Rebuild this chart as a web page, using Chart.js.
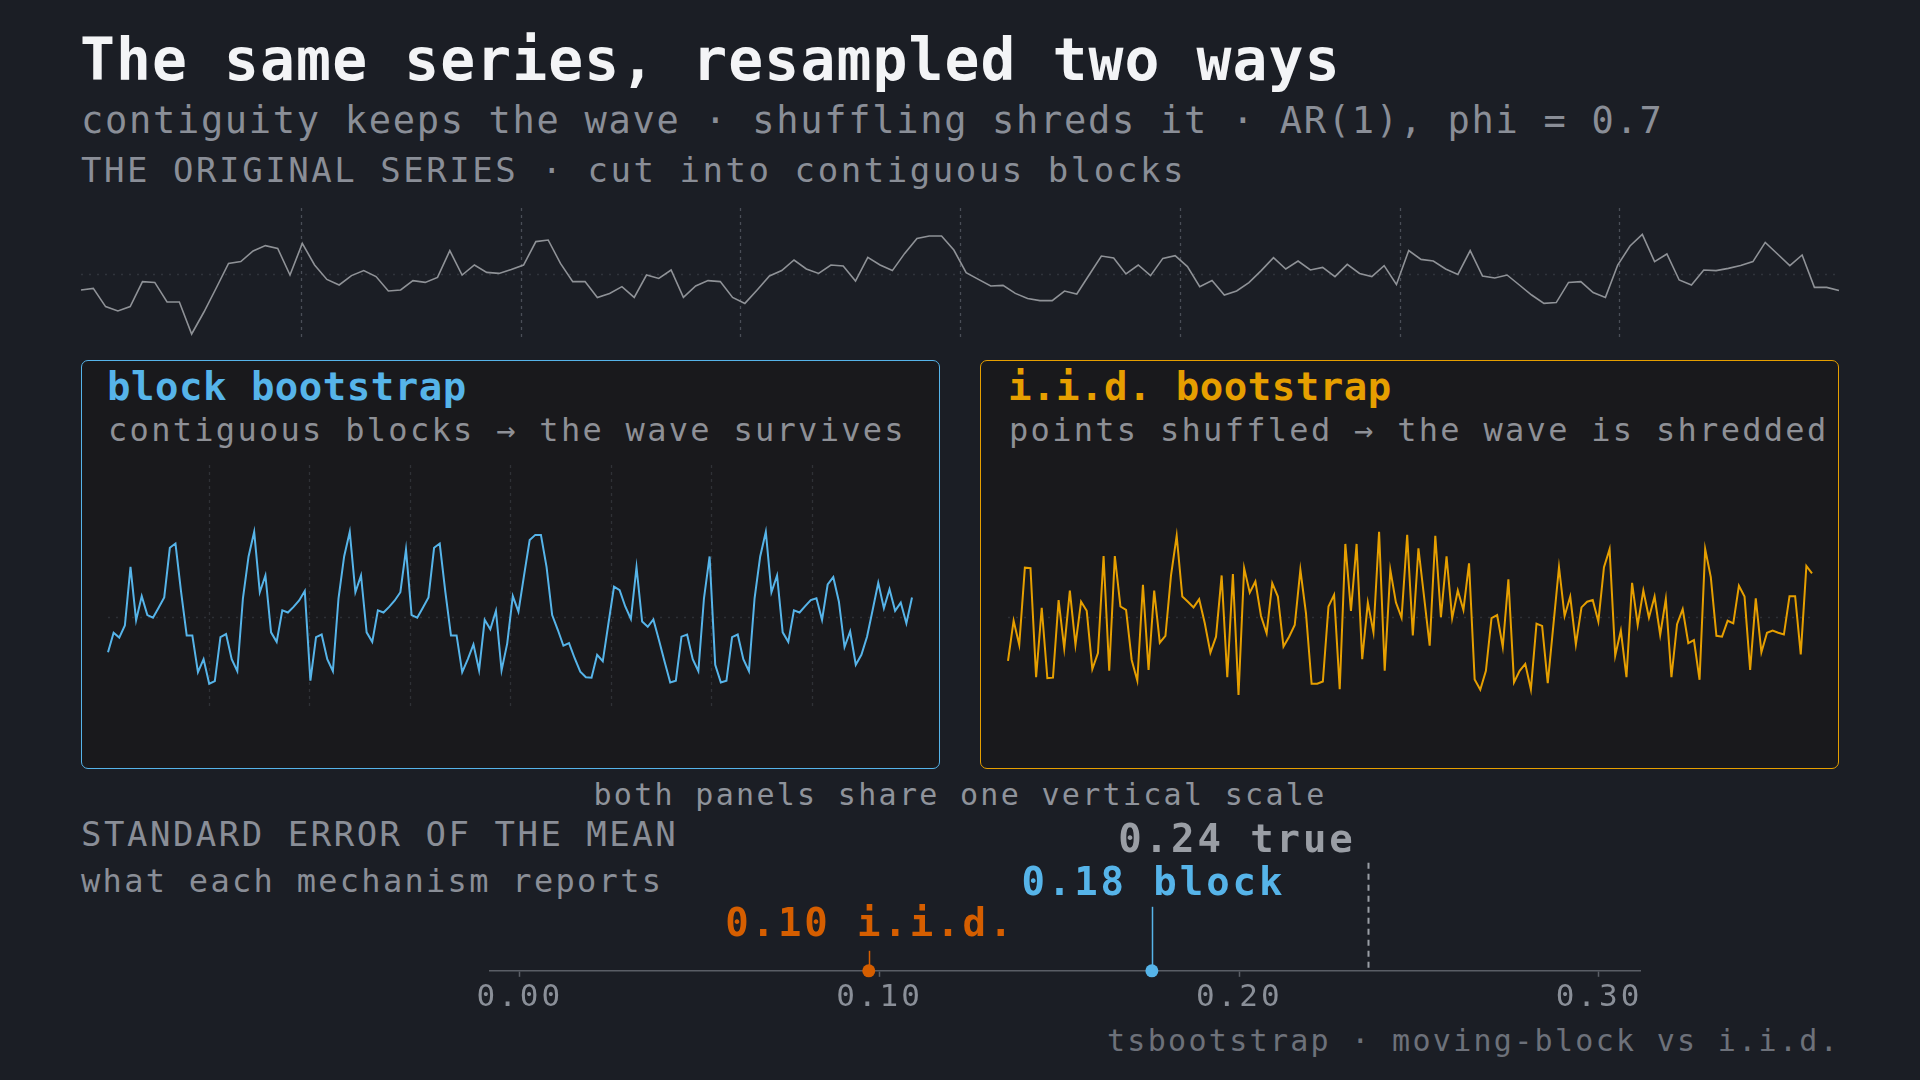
<!DOCTYPE html>
<html>
<head>
<meta charset="utf-8">
<script src="https://cdn.jsdelivr.net/npm/chart.js@4.4.1/dist/chart.umd.min.js"></script>
<style>
  html, body { margin: 0; padding: 0; background: #1b1e25; }
  #page { position: relative; width: 1920px; height: 1080px; overflow: hidden; background: #1b1e25;
          font-family: "DejaVu Sans Mono", monospace; }
  .t { position: absolute; white-space: pre; line-height: normal; }
  .panel { position: absolute; box-sizing: border-box; border-radius: 7px; background: #19191c; }
  canvas { position: absolute; }
</style>
</head>
<body>
<div id="page">
  <div class="t" style="left:80px; top:26px; font-size:58px; font-weight:bold; letter-spacing:1.1px; color:#f3f4f6">The same series, resampled two ways</div>
  <div class="t" style="left:81px; top:99px; font-size:37px; letter-spacing:1.7px; color:#8a8e97">contiguity keeps the wave · shuffling shreds it · AR(1), phi = 0.7</div>
  <div class="t" style="left:81px; top:150px; font-size:34px; letter-spacing:2.55px; color:#8a8e97">THE ORIGINAL SERIES · cut into contiguous blocks</div>

  <canvas id="origChart" width="1770" height="141" style="left:75px; top:202px; width:1770px; height:141px"></canvas>

  <div class="panel" style="left:81px; top:360px; width:859px; height:409px; border:1.5px solid #56B4E9"></div>
  <div class="panel" style="left:980px; top:360px; width:859px; height:409px; border:1.5px solid #E69F00"></div>
  <div class="t" style="left:107px; top:364px; font-size:39px; font-weight:bold; letter-spacing:0.5px; color:#56B4E9">block bootstrap</div>
  <div class="t" style="left:108px; top:411px; font-size:32px; letter-spacing:2.3px; color:#8e9096">contiguous blocks → the wave survives</div>
  <div class="t" style="left:1008px; top:364px; font-size:39px; font-weight:bold; letter-spacing:0.5px; color:#E69F00">i.i.d. bootstrap</div>
  <div class="t" style="left:1009px; top:411px; font-size:32px; letter-spacing:2.3px; color:#8e9096">points shuffled → the wave is shredded</div>

  <canvas id="blockChart" width="816" height="254" style="left:102px; top:459px; width:816px; height:254px"></canvas>
  <canvas id="iidChart" width="816" height="254" style="left:1002px; top:459px; width:816px; height:254px"></canvas>

  <div class="t" style="left:0; width:1920px; text-align:center; top:777px; font-size:30px; letter-spacing:2.3px; color:#8f939b">both panels share one vertical scale</div>
  <div class="t" style="left:81px; top:814px; font-size:34px; letter-spacing:2.5px; color:#8a8e97">STANDARD ERROR OF THE MEAN</div>
  <div class="t" style="left:81px; top:862px; font-size:32px; letter-spacing:2.3px; color:#8a8e97">what each mechanism reports</div>

  <canvas id="seChart" width="1340" height="198" style="left:400px; top:822px; width:1340px; height:198px"></canvas>

  <div class="t" style="right:80px; top:1023px; font-size:30px; letter-spacing:2.3px; color:#6d717a">tsbootstrap · moving-block vs i.i.d.</div>
</div>

<script>
// ---- data ----
const original = [
  -0.80, -0.72, -1.63, -1.85, -1.63, -0.38, -0.42, -1.40, -1.40, -3.00, -1.90, -0.70,
   0.53,  0.62,  1.15,  1.42,  1.28, -0.05,  1.53,  0.45, -0.27, -0.55, -0.08,  0.17,
  -0.13, -0.85, -0.80, -0.33, -0.42, -0.17,  1.17, -0.05,  0.45,  0.08,  0.03,  0.23,
   0.45,  1.62,  1.70,  0.53, -0.38, -0.38, -1.18, -0.97, -0.63, -1.17, -0.05, -0.22,
   0.20, -1.17, -0.60, -0.33, -0.38, -1.17, -1.47, -0.80, -0.10,  0.17,  0.70,  0.25,
   0.03,  0.45,  0.40, -0.35,  0.83,  0.45,  0.17,  1.03,  1.78,  1.90,  1.90,  1.20,
   0.07, -0.27, -0.60, -0.57, -0.97, -1.23, -1.33, -1.33, -0.85, -1.00, -0.05,  0.90,
   0.80,  0.00,  0.45, -0.08,  0.78,  0.92,  0.37, -0.63, -0.33, -1.05, -0.85, -0.43,
   0.17,  0.82,  0.25,  0.65,  0.20,  0.33, -0.13,  0.48,  0.03, -0.13,  0.42, -0.52,
   1.17,  0.73,  0.65,  0.25, -0.02,  1.17, -0.10, -0.20, -0.05, -0.55, -1.05, -1.47,
  -1.43, -0.42, -0.38, -0.93, -1.17,  0.45,  1.40,  1.98,  0.62,  1.00, -0.30, -0.55,
   0.20,  0.17,  0.28,  0.42,  0.62,  1.58,  1.00,  0.42,  0.95, -0.67, -0.67, -0.83
];

const blockSample = [
  -0.81, -0.36, -0.47, -0.19,  1.17, -0.07,  0.49,  0.05, -0.01,  0.22,  0.46,  1.61,
   1.71,  0.59, -0.42, -0.42, -1.27, -0.97, -1.54, -1.48, -0.46, -0.39, -0.97, -1.25,
   0.44,  1.41,  1.98,  0.58,  0.97, -0.35, -0.57,  0.16,  0.11,  0.24,  0.39,  0.61,
  -1.47, -0.46, -0.40, -0.97, -1.25,  0.44,  1.41,  1.98,  0.58,  0.97, -0.35, -0.57,
   0.16,  0.11,  0.24,  0.39,  0.58,  1.57,  0.05, -0.01,  0.22,  0.46,  1.61,  1.71,
   0.59, -0.42, -0.42, -1.27, -0.97, -0.63, -1.23, -0.06, -0.28,  0.15, -1.23, -0.61,
   0.49,  0.13,  0.97,  1.79,  1.91,  1.91,  1.17,  0.05, -0.29, -0.66, -0.60, -0.95,
  -1.26, -1.39, -1.40, -0.87, -1.02, -0.15,  0.71,  0.63,  0.25, -0.04,  1.16, -0.10,
  -0.22, -0.05, -0.53, -1.03, -1.51, -1.47, -0.45, -0.40, -0.97, -1.25,  0.44,  1.41,
  -1.10, -1.51, -1.47, -0.46, -0.40, -0.97, -1.25,  0.44,  1.41,  1.98,  0.58,  0.97,
  -0.35, -0.57,  0.16,  0.11,  0.26,  0.40,  0.44, -0.06,  0.76,  0.93,  0.36, -0.69,
  -0.33, -1.10, -0.87, -0.45,  0.17,  0.80,  0.21,  0.65,  0.15,  0.34, -0.14,  0.46
];

const iidSample = [
  -1.01, -0.08, -0.64,  1.15,  1.14, -1.39,  0.22, -1.41, -1.40,  0.40, -0.72,  0.62,
  -0.64,  0.36,  0.15, -1.20, -0.83,  1.42, -1.24,  1.42,  0.25,  0.17, -0.99, -1.47,
   0.75, -1.22,  0.62, -0.59, -0.43,  0.98,  1.89,  0.48,  0.36,  0.23,  0.42, -0.14,
  -0.82, -0.45,  0.97, -1.39,  1.00, -1.80,  1.14,  0.57,  0.83,  0.03, -0.37,  0.79,
   0.48, -0.68, -0.45, -0.18,  1.10,  0.09, -1.54, -1.54, -1.49,  0.25,  0.52, -1.67,
   1.70,  0.15,  1.70, -0.97,  0.34, -0.35,  1.98, -1.24,  1.10,  0.34, -0.01,  1.91,
  -0.42,  1.60,  0.48, -0.66,  1.89,  0.00,  1.41, -0.02,  0.62,  0.17,  1.25, -1.44,
  -1.68, -1.24, -0.02,  0.05, -0.69,  0.88, -1.51, -1.24, -1.08, -1.67, -0.15, -0.20,
  -1.53, -0.18,  1.16,  0.03,  0.48, -0.63,  0.23,  0.36,  0.40, -0.10,  1.16,  1.58,
  -0.89, -0.31, -1.39,  0.80, -0.18,  0.62, -0.01,  0.48, -0.41,  0.42, -1.39, -0.16,
   0.19, -0.60, -0.53, -1.45,  1.58,  0.93, -0.43, -0.45, -0.08, -0.14,  0.73,  0.48,
  -1.22,  0.44, -0.81, -0.36, -0.31, -0.36, -0.40,  0.49,  0.49, -0.86,  1.19,  1.02
];

const nBlocks = 8;

const seNames = ['i.i.d.', 'block', 'true'];
const seValues = [0.097, 0.1757, 0.2357];
const seTicks = [0.00, 0.10, 0.20, 0.30];

// ---- guides: zero line and block boundaries ----
const guideLines = {
  id: 'guideLines',
  beforeDatasetsDraw(chart, args, opts) {
    const { ctx, chartArea: a, scales: { x, y } } = chart;
    ctx.save();
    ctx.lineWidth = 1.3;
    ctx.strokeStyle = opts.zeroColor;
    ctx.setLineDash([2, 6]);
    const y0 = Math.round(y.getPixelForValue(0)) + 0.5;
    ctx.beginPath();
    ctx.moveTo(a.left, y0);
    ctx.lineTo(a.right, y0);
    ctx.stroke();
    if (opts.blockColor) {
      ctx.strokeStyle = opts.blockColor;
      ctx.setLineDash([3, 4]);
      const n = chart.data.labels.length - 1;
      for (let k = 1; k < nBlocks; k++) {
        const px = Math.round(x.getPixelForValue(k * n / nBlocks)) + 0.5;
        ctx.beginPath();
        ctx.moveTo(px, a.top);
        ctx.lineTo(px, a.bottom);
        ctx.stroke();
      }
    }
    ctx.restore();
  }
};

function seriesChart(id, values, color, width, yMin, yMax, guides) {
  return new Chart(document.getElementById(id), {
    type: 'line',
    data: {
      labels: values.map((_, i) => i),
      datasets: [{
        data: values,
        borderColor: color,
        borderWidth: width,
        pointRadius: 0,
        tension: 0,
        clip: false
      }]
    },
    options: {
      responsive: false,
      animation: false,
      events: [],
      layout: { padding: 6 },
      scales: {
        x: { type: 'category', display: false, offset: false },
        y: { display: false, min: yMin, max: yMax }
      },
      plugins: {
        legend: { display: false },
        tooltip: { enabled: false },
        guideLines: guides
      }
    },
    plugins: [guideLines]
  });
}

seriesChart('origChart', original, '#8f9297', 1.6, -3.15, 3.3,
  { zeroColor: '#30343c', blockColor: '#4a4e57' });
seriesChart('blockChart', blockSample, '#56B4E9', 2, -2.08, 3.53,
  { zeroColor: '#2e3035', blockColor: '#2f3136' });
seriesChart('iidChart', iidSample, '#E69F00', 2, -2.08, 3.53,
  { zeroColor: '#2e3035' });

// ---- standard error strip ----
const seStyle = [
  { color: '#D55E00', stem: 20, text: 35, align: 'center', dash: [] },
  { color: '#56B4E9', stem: 64, text: 76, align: 'center', dash: [] },
  { color: '#9a9ea5', stem: 108, text: 119, align: 'right', dash: [6, 5] }
];

const seMarks = {
  id: 'seMarks',
  beforeDraw(chart) {
    chart.ctx.letterSpacing = '3px';
  },
  beforeDatasetsDraw(chart) {
    const { ctx, chartArea: a, scales: { x } } = chart;
    ctx.save();
    seValues.forEach((v, i) => {
      const s = seStyle[i];
      const px = Math.round(x.getPixelForValue(v)) + 0.5;
      ctx.strokeStyle = s.color;
      ctx.lineWidth = s.dash.length ? 2 : 1.5;
      ctx.setLineDash(s.dash);
      ctx.beginPath();
      ctx.moveTo(px, a.bottom - s.stem);
      ctx.lineTo(px, a.bottom);
      ctx.stroke();
    });
    ctx.restore();
  },
  afterDatasetsDraw(chart) {
    const { ctx, chartArea: a, scales: { x } } = chart;
    ctx.save();
    ctx.font = 'bold 39px "DejaVu Sans Mono"';
    ctx.letterSpacing = '2.9px';
    ctx.textBaseline = 'alphabetic';
    seValues.forEach((v, i) => {
      const s = seStyle[i];
      const px = x.getPixelForValue(v);
      const label = v.toFixed(2) + ' ' + seNames[i];
      ctx.fillStyle = s.color;
      if (s.align === 'right') {
        ctx.textAlign = 'right';
        ctx.fillText(label, px - 12, a.bottom - s.text);
      } else {
        ctx.textAlign = 'center';
        ctx.fillText(label, px + 1.5, a.bottom - s.text);
      }
    });
    ctx.restore();
  }
};

new Chart(document.getElementById('seChart'), {
  type: 'scatter',
  data: {
    datasets: [0, 1].map(i => ({
      label: seNames[i],
      data: [{ x: seValues[i], y: 0 }],
      pointRadius: 6.5,
      pointBackgroundColor: seStyle[i].color,
      pointBorderWidth: 0,
      clip: false
    }))
  },
  options: {
    responsive: false,
    animation: false,
    events: [],
    layout: { padding: { left: 90, right: 100, top: 0, bottom: 0 } },
    scales: {
      x: {
        type: 'linear',
        min: -0.0083,
        max: 0.3114,
        afterBuildTicks: s => { s.ticks = seTicks.map(v => ({ value: v })); },
        grid: { display: true, drawOnChartArea: false, drawTicks: true, tickLength: 6, tickWidth: 1.5, color: '#5a5e66' },
        border: { display: true, color: '#5a5e66', width: 1.5 },
        ticks: {
          color: '#8a8f98',
          font: { family: 'DejaVu Sans Mono', size: 31 },
          padding: 3,
          maxRotation: 0,
          callback: v => Number(v).toFixed(2)
        }
      },
      y: { display: false, min: 0, max: 1 }
    },
    plugins: { legend: { display: false }, tooltip: { enabled: false } }
  },
  plugins: [seMarks]
});
</script>
</body>
</html>
